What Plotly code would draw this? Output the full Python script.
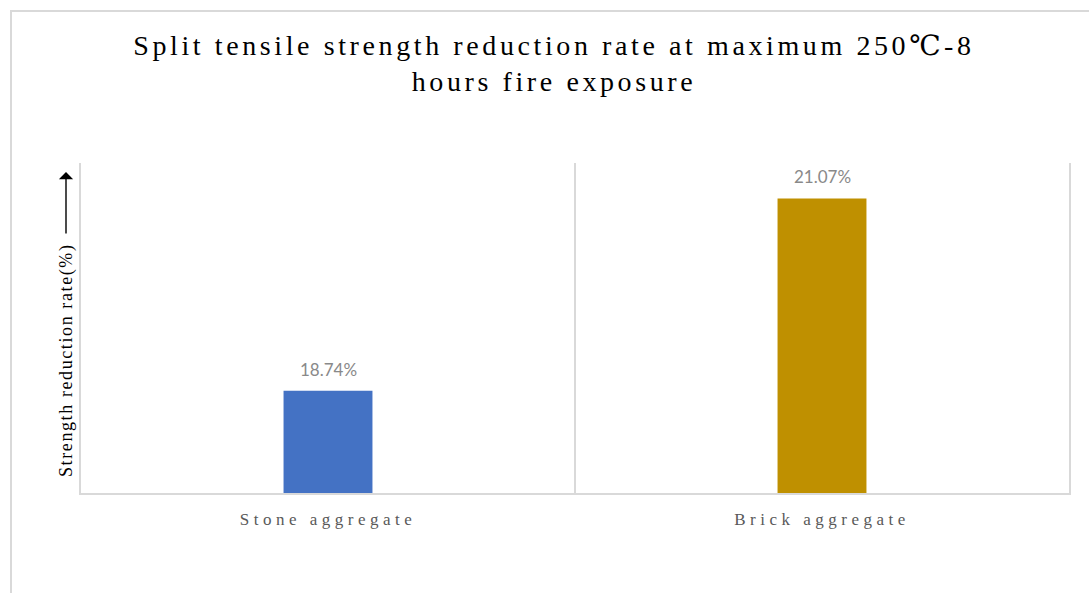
import plotly.graph_objects as go

categories = ["Stone aggregate", "Brick aggregate"]
values = [18.74, 21.07]
bar_colors = ["#4472C4", "#BF9000"]
value_labels = ["18.74%", "21.07%"]
title_lines = ["Split tensile strength reduction rate at maximum 250\u2103-8", "hours fire exposure"]
y_title = "Strength reduction rate(%)"
y_range = [17.5, 21.5]

def spaced(s, px):
    return f'<span style="letter-spacing:{px}px">{s}</span>'

SERIF = "Liberation Serif, DejaVu Serif, Times New Roman, serif"

fig = go.Figure()
fig.add_trace(go.Bar(
    x=categories, y=values, marker=dict(color=bar_colors, line=dict(width=0)),
    width=0.18, showlegend=False, hoverinfo="skip",
))

for c, v, t in zip(categories, values, value_labels):
    fig.add_annotation(x=c, y=v, text=t, showarrow=False, yanchor="bottom", yshift=9,
                       font=dict(family="Lato, Open Sans, sans-serif", size=17, color="#898989"))

fig.update_layout(
    width=1089, height=593,
    margin=dict(l=81, r=20, t=163, b=100),
    paper_bgcolor="white", plot_bgcolor="white",
    title=dict(
        text="<br>".join(spaced(t, 3.6) for t in title_lines),
        x=554/1089, xanchor="center", xref="container",
        y=1-55/593, yanchor="top", yref="container",
        font=dict(family=SERIF, size=28, color="#000000"),
    ),
    xaxis=dict(
        type="category", tickson="boundaries", showgrid=True, gridcolor="#d9d9d9", gridwidth=2,
        showline=True, linecolor="#d9d9d9", linewidth=2, ticks="", range=[-0.5, 1.5],
        tickmode="array", tickvals=categories, ticktext=[spaced(c, 4.5) for c in categories],
        tickfont=dict(family=SERIF, size=17, color="#595959"), ticklabelstandoff=10,
    ),
    yaxis=dict(
        range=y_range, showgrid=False, zeroline=False, showticklabels=False, ticks="",
        showline=True, mirror=True, linecolor="#d9d9d9", linewidth=2,
    ),
    bargap=0.82,
)

# y-axis title (rotated text) and arrow
fig.add_annotation(xref="paper", yref="paper", x=-15/988, y=(493-360)/330, text=spaced(y_title, 1.6),
                   textangle=-90, showarrow=False, xanchor="center", yanchor="middle",
                   font=dict(family=SERIF, size=18, color="#000000"))
fig.add_annotation(xref="paper", yref="paper", x=-15/988, y=(493-172)/330, text="",
                   showarrow=True, arrowhead=1, arrowsize=1.7, arrowwidth=1.4, arrowcolor="#000000",
                   ax=0, ay=63)

# outer chart-area border
fig.add_shape(type="rect", xref="paper", yref="paper",
              x0=(11-81)/988, x1=(1100-81)/988, y0=(493-610)/330, y1=(493-11)/330,
              line=dict(color="#d9d9d9", width=2), fillcolor="rgba(0,0,0,0)", layer="below")

fig.write_html("out.html")
